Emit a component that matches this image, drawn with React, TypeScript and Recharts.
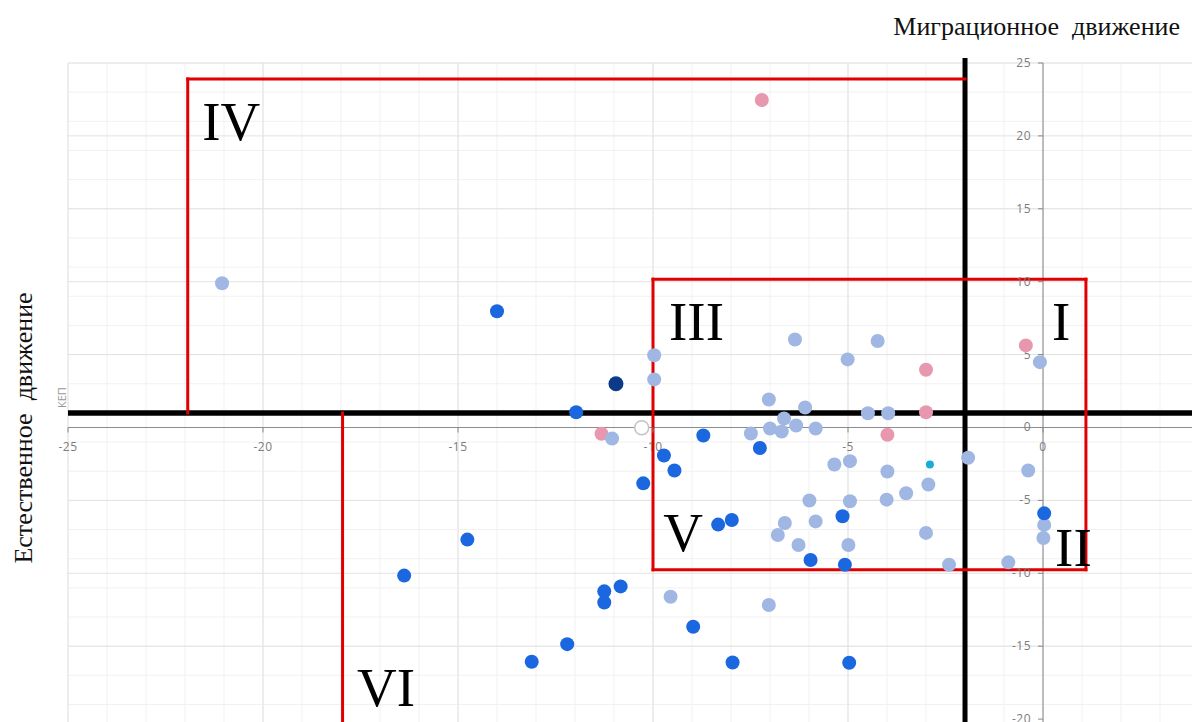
import React from 'react';
import { ScatterChart, Scatter, XAxis, YAxis, CartesianGrid, ReferenceLine } from 'recharts';

const W = 1192;
const H = 722;

// x = migration movement, y = natural movement
const lightBluePts: [number, number][] = [
  [-21.05, 9.89], [-9.97, 4.95], [-9.97, 3.3], [-11.05, -0.76], [-6.36, 6.04],
  [-5.01, 4.67], [-4.24, 5.93], [-7.03, 1.92], [-6.1, 1.37], [-6.64, 0.62],
  [-6.33, 0.14], [-7.0, -0.07], [-6.7, -0.27], [-7.49, -0.41], [-5.83, -0.07],
  [-4.49, 0.98], [-3.97, 0.98], [-5.35, -2.54], [-4.95, -2.31], [-3.99, -3.02],
  [-1.92, -2.08], [-0.38, -2.95], [-2.94, -3.91], [-3.51, -4.51], [-4.01, -4.95],
  [-4.95, -5.06], [-5.99, -5.01], [-5.83, -6.44], [-6.62, -6.55], [-6.8, -7.37],
  [-6.27, -8.06], [-4.99, -8.06], [-3.0, -7.23], [-2.41, -9.41], [-0.89, -9.25],
  [0.03, -6.68], [0.01, -7.58], [-9.55, -11.61], [-7.03, -12.18], [-0.08, 4.48],
];

const bluePts: [number, number][] = [
  [-14.0, 7.97], [-11.97, 1.05], [-8.71, -0.55], [-7.26, -1.41], [-9.72, -1.92],
  [-9.45, -2.95], [-10.25, -3.83], [-8.33, -6.66], [-7.98, -6.35], [-5.14, -6.09],
  [-5.96, -9.09], [-5.08, -9.41], [0.03, -5.89], [-14.76, -7.69], [-16.38, -10.16],
  [-11.25, -11.24], [-11.25, -12.0], [-10.83, -10.9], [-8.97, -13.67], [-12.2, -14.86],
  [-13.11, -16.07], [-7.96, -16.12], [-4.97, -16.14],
];

const navyPts: [number, number][] = [[-10.95, 3.0]];

const pinkPts: [number, number][] = [
  [-7.21, 22.46], [-11.32, -0.43], [-3.0, 3.96], [-3.0, 1.05], [-3.99, -0.5], [-0.44, 5.63],
];

const cyanPts: [number, number][] = [[-2.9, -2.54]];

const hollowPts: [number, number][] = [[-10.29, -0.02]];

const xTickValues = [-25, -20, -15, -10, -5, 0];
const yTickValues = [25, 20, 15, 10, 5, 0, -5, -10, -15, -20];

const romanLabels = [
  { x: -21.56, y: 19.71, text: 'IV' },
  { x: -9.59, y: 5.98, text: 'III' },
  { x: 0.23, y: 5.98, text: 'I' },
  { x: 0.31, y: -9.48, text: 'II' },
  { x: -9.74, y: -8.45, text: 'V' },
  { x: -17.59, y: -19.09, text: 'VI' },
];

const X_DOMAIN: [number, number] = [-25, 3.82];
const Y_DOMAIN: [number, number] = [-20.2, 25];

const range = (a: number, b: number, s: number) => {
  const out: number[] = [];
  for (let v = a; v <= b; v += s) out.push(v);
  return out;
};
const minorX = range(-25, 3, 1);
const minorY = range(-20, 25, 1);
const majorX = range(-25, 0, 5);
const majorY = range(-20, 25, 5);

const toData = (pts: [number, number][]) => pts.map(([x, y]) => ({ x, y }));

const dot = (fill: string, r: number) => (p: any) =>
  <circle cx={p.cx} cy={p.cy} r={r} fill={fill} />;

const hollow = (p: any) =>
  <circle cx={p.cx} cy={p.cy} r={7} fill="#fff" stroke="#c4c4c4" strokeWidth={1.5} />;

const TICK_FONT = "'Open Sans', sans-serif";

const xTickShape = (p: any) => (
  <g>
    <line x1={p.cx} y1={p.cy} x2={p.cx} y2={p.cy + 5} stroke="#888" strokeWidth={1} />
    <text x={p.cx} y={p.cy + 24} textAnchor="middle" fontSize={12} fill="#7c7c7c" fontFamily={TICK_FONT} letterSpacing={0.5}>
      {String(p.payload.x)}
    </text>
  </g>
);

const yTickShape = (p: any) => (
  <g>
    <line x1={p.cx - 5} y1={p.cy} x2={p.cx} y2={p.cy} stroke="#888" strokeWidth={1} />
    <text x={p.cx - 12} y={p.cy + 4} textAnchor="end" fontSize={12} fill="#7c7c7c" fontFamily={TICK_FONT} letterSpacing={0.5}>
      {String(p.payload.y)}
    </text>
  </g>
);

const romanShape = (p: any) => (
  <text x={p.cx} y={p.cy} textAnchor="start" fontSize={55} fill="#000" fontFamily="'Liberation Serif', 'Times New Roman', serif">
    {p.payload.text}
  </text>
);

const RED = '#e00000';
const redSegs: { a: [number, number]; b: [number, number] }[] = [
  { a: [-21.93, 23.9], b: [-2, 23.9] },
  { a: [-21.93, 23.9], b: [-21.93, 1] },
  { a: [-10, 10.16], b: [1.1, 10.16] },
  { a: [-10, 10.16], b: [-10, -9.75] },
  { a: [-10, -9.75], b: [1.1, -9.75] },
  { a: [1.1, 10.16], b: [1.1, -9.75] },
  { a: [-17.96, 1], b: [-17.96, -20.2] },
];

const SERIF = "'Liberation Serif', 'Times New Roman', serif";

export default function App() {
  return (
    <div style={{ position: 'absolute', left: 0, top: 0, width: W, height: H, overflow: 'hidden', background: '#fff' }}>
      <ScatterChart width={W} height={H} margin={{ top: 63, right: 0, bottom: 0, left: 68 }}>
        <XAxis type="number" dataKey="x" domain={X_DOMAIN} hide />
        <YAxis type="number" dataKey="y" domain={Y_DOMAIN} hide />
        <CartesianGrid stroke="#f1f1f1" verticalValues={minorX} horizontalValues={minorY} />
        <CartesianGrid stroke="#e2e2e2" verticalValues={majorX} horizontalValues={majorY} />
        <ReferenceLine y={0} stroke="#8c8c8c" strokeWidth={1} />
        <ReferenceLine segment={[{ x: 0, y: 25 }, { x: 0, y: -20.2 }]} stroke="#8c8c8c" strokeWidth={1} />
        <Scatter data={xTickValues.map((x) => ({ x, y: 0 }))} shape={xTickShape} isAnimationActive={false} />
        <Scatter data={yTickValues.map((y) => ({ x: 0, y }))} shape={yTickShape} isAnimationActive={false} />
        <Scatter data={toData(pinkPts)} shape={dot('#e898ae', 7)} isAnimationActive={false} />
        <Scatter data={toData(hollowPts)} shape={hollow} isAnimationActive={false} />
        <Scatter data={toData(lightBluePts)} shape={dot('#9fb7e2', 7)} isAnimationActive={false} />
        <Scatter data={toData(bluePts)} shape={dot('#1b67e0', 7)} isAnimationActive={false} />
        <Scatter data={toData(navyPts)} shape={dot('#0c3a88', 7.5)} isAnimationActive={false} />
        <Scatter data={toData(cyanPts)} shape={dot('#17aed6', 4)} isAnimationActive={false} />
        <ReferenceLine segment={[{ x: -25, y: 1 }, { x: 3.82, y: 1 }]} stroke="#000" strokeWidth={5.5} ifOverflow="visible" />
        <ReferenceLine segment={[{ x: -2, y: 25.35 }, { x: -2, y: -20.2 }]} stroke="#000" strokeWidth={5} ifOverflow="visible" />
        {redSegs.map((s, i) => (
          <ReferenceLine
            key={i}
            segment={[{ x: s.a[0], y: s.a[1] }, { x: s.b[0], y: s.b[1] }]}
            stroke={RED}
            strokeWidth={3}
            strokeLinecap="square"
            ifOverflow="visible"
          />
        ))}
        <Scatter data={romanLabels} shape={romanShape} isAnimationActive={false} />
      </ScatterChart>
      <svg width={W} height={H} style={{ position: 'absolute', left: 0, top: 0, pointerEvents: 'none' }}>
        <text x={1180} y={35} textAnchor="end" fontSize={26} fill="#111" fontFamily={SERIF} style={{ whiteSpace: 'pre' }}>
          {'Миграционное  движение'}
        </text>
        <text transform="translate(32,428) rotate(-90)" textAnchor="middle" fontSize={26} fill="#111" fontFamily={SERIF} style={{ whiteSpace: 'pre' }}>
          {'Естественное  движение'}
        </text>
        <text transform="translate(66,408) rotate(-90)" textAnchor="start" fontSize={11} fill="#9a9a9a" fontFamily={TICK_FONT}>
          {'КЕП'}
        </text>
      </svg>
    </div>
  );
}
